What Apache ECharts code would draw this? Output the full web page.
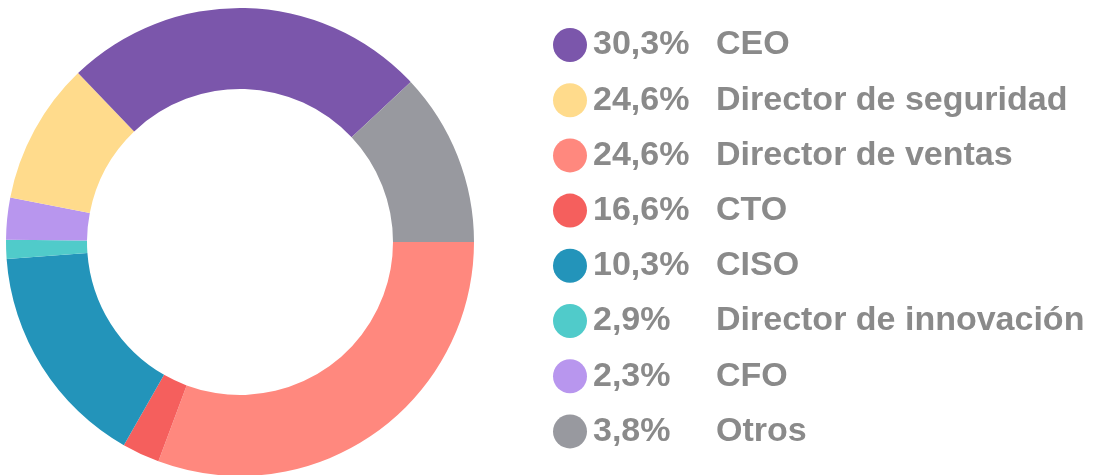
<!DOCTYPE html>
<html>
<head>
<meta charset="utf-8">
<script src="https://cdn.jsdelivr.net/npm/echarts@6/dist/echarts.min.js"></script>
<style>
  html, body { margin: 0; padding: 0; background: #fff; }
  #chart { width: 1095px; height: 475px; }
</style>
</head>
<body>
<div id="chart"></div>
<script>
// slices, clockwise from 3 o'clock
var sliceNames = ['Director de ventas', 'CTO', 'CISO', 'Director de innovación', 'CFO', 'Director de seguridad', 'CEO', 'Otros'];
var sliceValues = [30.7, 2.6, 15.6, 1.3, 2.9, 9.8, 25.2, 12.0];
var sliceColors = ['#ff887e', '#f55f5d', '#2394ba', '#50cbca', '#b896ee', '#ffdb8c', '#7b56ab', '#98999f'];

// legend order and the percentages printed in it
var legendNames = ['CEO', 'Director de seguridad', 'Director de ventas', 'CTO', 'CISO', 'Director de innovación', 'CFO', 'Otros'];
var legendPct = ['30,3%', '24,6%', '24,6%', '16,6%', '10,3%', '2,9%', '2,3%', '3,8%'];

var chart = echarts.init(document.getElementById('chart'), null, { renderer: 'canvas' });

var pieData = sliceNames.map(function (n, i) {
    return { name: n, value: sliceValues[i], itemStyle: { color: sliceColors[i] } };
});

var txt = { color: '#8a8a8a', fontWeight: 'bold', fontSize: 34, lineHeight: 34, fontFamily: 'Liberation Sans' };

var option = {
    animation: false,
    legend: {
        orient: 'vertical',
        left: 548,
        top: 23,
        icon: 'circle',
        itemWidth: 36,
        itemHeight: 34,
        itemGap: 21.2,
        symbolKeepAspect: true,
        selectedMode: false,
        data: legendNames,
        formatter: function (name) {
            var p = legendPct[legendNames.indexOf(name)];
            return '{p|' + p + '}{n|' + name + '}';
        },
        textStyle: {
            color: '#8a8a8a',
            fontFamily: 'Liberation Sans, Arial, sans-serif',
            fontWeight: 'bold',
            fontSize: 34,
            lineHeight: 34,
            rich: {
                p: Object.assign({ width: 123 }, txt),
                n: txt
            }
        }
    },
    series: [
        {
            type: 'pie',
            center: [240, 242],
            radius: [153, 234],
            startAngle: 0,
            clockwise: true,
            label: { show: false },
            labelLine: { show: false },
            emphasis: { disabled: true },
            data: pieData
        }
    ]
};

chart.setOption(option);

window.addEventListener('resize', function () {
    chart.resize();
});
</script>
</body>
</html>
